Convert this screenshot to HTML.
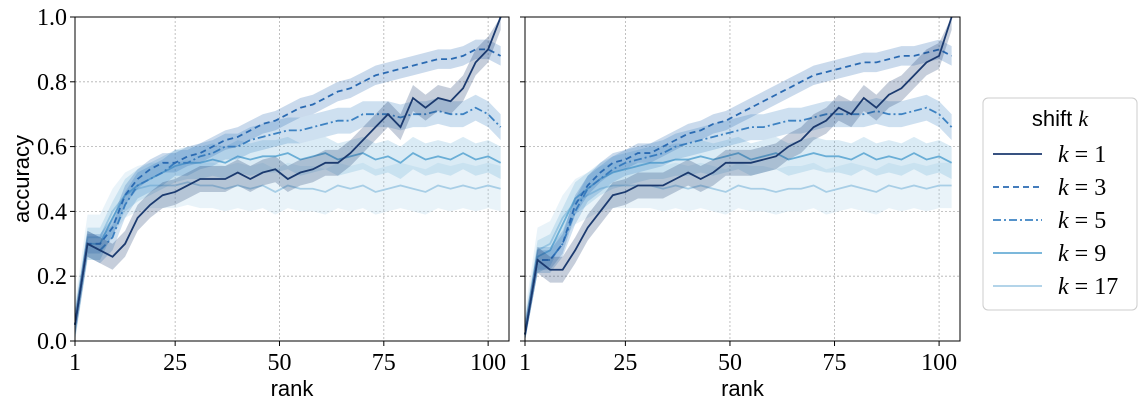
<!DOCTYPE html>
<html><head><meta charset="utf-8"><style>
body{margin:0;background:#fff;}
svg text{fill:#000;}
.ser{font-family:"Liberation Serif",serif;font-size:24px;}
.san{font-family:"Liberation Sans",sans-serif;font-size:22px;}
</style></head><body>
<svg id="c" width="1146" height="409" xmlns="http://www.w3.org/2000/svg"></svg>
<script>
const ranks=[1,4,7,10,13,16,19,22,25,28,31,34,37,40,43,46,49,52,55,58,61,64,67,70,73,76,79,82,85,88,91,94,97,100,103];
const xTicks=[1,25,50,75,100];
const yTicks=[0,0.2,0.4,0.6,0.8,1.0];
const yTickLabels=["0.0","0.2","0.4","0.6","0.8","1.0"];
const seriesNames=["k = 1","k = 3","k = 5","k = 9","k = 17"];
const bandWidth=[0.04,0.03,0.04,0.05,0.07];
const L_k1=[0.05,0.30,0.28,0.26,0.30,0.38,0.42,0.45,0.46,0.48,0.50,0.50,0.50,0.52,0.50,0.52,0.53,0.50,0.52,0.53,0.55,0.55,0.58,0.62,0.66,0.70,0.66,0.75,0.72,0.75,0.74,0.78,0.86,0.90,1.00];
const L_k3=[0.05,0.30,0.30,0.35,0.45,0.50,0.53,0.55,0.55,0.57,0.58,0.60,0.62,0.63,0.65,0.67,0.68,0.70,0.72,0.73,0.75,0.77,0.78,0.80,0.82,0.83,0.84,0.85,0.86,0.87,0.87,0.88,0.90,0.90,0.88];
const L_k5=[0.05,0.30,0.28,0.32,0.42,0.48,0.50,0.52,0.55,0.55,0.57,0.58,0.60,0.60,0.62,0.63,0.64,0.65,0.65,0.66,0.67,0.68,0.68,0.70,0.70,0.70,0.69,0.70,0.70,0.71,0.70,0.70,0.72,0.70,0.66];
const L_k9=[0.05,0.30,0.30,0.38,0.45,0.48,0.50,0.52,0.54,0.55,0.55,0.56,0.55,0.57,0.56,0.57,0.57,0.58,0.56,0.57,0.58,0.56,0.57,0.58,0.56,0.57,0.55,0.58,0.56,0.57,0.56,0.58,0.56,0.57,0.55];
const L_k17=[0.05,0.32,0.32,0.40,0.45,0.47,0.48,0.48,0.48,0.49,0.48,0.48,0.47,0.48,0.47,0.48,0.46,0.48,0.47,0.47,0.46,0.48,0.47,0.48,0.46,0.47,0.48,0.47,0.46,0.48,0.47,0.48,0.47,0.48,0.47];
const R_k1=[0.02,0.25,0.22,0.22,0.28,0.35,0.40,0.45,0.46,0.48,0.48,0.48,0.50,0.52,0.50,0.52,0.55,0.55,0.55,0.56,0.57,0.60,0.62,0.66,0.68,0.72,0.70,0.75,0.72,0.76,0.78,0.82,0.86,0.88,1.00];
const R_k3=[0.02,0.25,0.25,0.30,0.42,0.48,0.52,0.55,0.56,0.58,0.58,0.60,0.62,0.64,0.65,0.67,0.68,0.70,0.72,0.74,0.76,0.78,0.80,0.82,0.83,0.84,0.85,0.86,0.86,0.87,0.88,0.88,0.89,0.90,0.88];
const R_k5=[0.02,0.25,0.25,0.30,0.40,0.47,0.50,0.53,0.55,0.56,0.57,0.58,0.60,0.61,0.62,0.63,0.64,0.65,0.66,0.66,0.67,0.68,0.68,0.69,0.70,0.70,0.70,0.70,0.71,0.70,0.70,0.71,0.72,0.70,0.66];
const R_k9=[0.02,0.26,0.28,0.36,0.44,0.47,0.50,0.52,0.53,0.54,0.55,0.55,0.56,0.56,0.57,0.56,0.57,0.58,0.56,0.57,0.58,0.56,0.57,0.58,0.57,0.57,0.56,0.58,0.56,0.57,0.56,0.58,0.56,0.57,0.55];
const R_k17=[0.02,0.28,0.30,0.38,0.43,0.45,0.47,0.48,0.48,0.48,0.48,0.47,0.48,0.47,0.48,0.47,0.46,0.48,0.47,0.47,0.46,0.47,0.47,0.48,0.46,0.47,0.48,0.47,0.46,0.48,0.47,0.48,0.47,0.48,0.48];
const colors=["#1b3a6f","#2a6ab2","#3d82c2","#6aaed6","#a8cee6"];
const dashes=["","6,4","8,3,2,3","",""];
const NS="http://www.w3.org/2000/svg";
const svg=document.getElementById('c');
function el(t,a,p){const e=document.createElementNS(NS,t);for(const k in a)e.setAttribute(k,a[k]);(p||svg).appendChild(e);return e;}
const plotTop=17,plotBot=341;
function panel(x0,x1,data,showY,name){
  const g=el('g',{});
  
  
  const X=v=>x0+(v-1)/(105-1)*(x1-x0);
  const Y=v=>plotBot-v*(plotBot-plotTop);
  xTicks.forEach(t=>{const l=el('line',{x1:X(t),x2:X(t),y1:plotTop,y2:plotBot,stroke:'#b0b0b0','stroke-dasharray':'2,2','stroke-width':0.8},g);
    
    el('line',{x1:X(t),x2:X(t),y1:plotBot,y2:plotBot+5,stroke:'#000'},g);
    const tx=el('text',{x:X(t),y:plotBot+29,'text-anchor':'middle',class:'ser'},g);tx.textContent=t;
    });
  yTicks.forEach((t,i)=>{const l=el('line',{x1:x0,x2:x1,y1:Y(t),y2:Y(t),stroke:'#b0b0b0','stroke-dasharray':'2,2','stroke-width':0.8},g);
    
    el('line',{x1:x0-5,x2:x0,y1:Y(t),y2:Y(t),stroke:'#000'},g);
    if(showY){const tx=el('text',{x:x0-8,y:Y(t)+8,'text-anchor':'end',class:'ser'},g);tx.textContent=yTickLabels[i];
    }});
  for(let s=data.length-1;s>=0;s--){
    const d=data[s];const n=Math.min(d.length,ranks.length);
    let up='',dn='';
    for(let i=0;i<n;i++)up+=(i?'L':'M')+X(ranks[i])+','+Y(Math.min(1,d[i]+bandWidth[s]));
    for(let i=n-1;i>=0;i--)dn+='L'+X(ranks[i])+','+Y(Math.max(0,d[i]-bandWidth[s]));
    const b=el('path',{d:up+dn+'Z',fill:colors[s],'fill-opacity':0.25,stroke:'none'},g);
    
    let p='';for(let i=0;i<n;i++)p+=(i?'L':'M')+X(ranks[i])+','+Y(d[i]);
    const ln=el('path',{d:p,fill:'none',stroke:colors[s],'stroke-width':1.8,'stroke-dasharray':dashes[s]},g);
    
  }
  el('rect',{x:x0,y:plotTop,width:x1-x0,height:plotBot-plotTop,fill:'none',stroke:'#000','stroke-width':1},g);
  const xl=el('text',{x:(x0+x1)/2,y:396,'text-anchor':'middle',class:'san'},g);xl.textContent='rank';
  
}
panel(75,509,[L_k1,L_k3,L_k5,L_k9,L_k17],true,'left-panel');
panel(525,960,[R_k1,R_k3,R_k5,R_k9,R_k17],false,'right-panel');
const yl=el('text',{x:0,y:0,transform:'translate(29,179) rotate(-90)','text-anchor':'middle',class:'san'});yl.textContent='accuracy';

const lg=el('g',{});


el('rect',{x:983,y:98,width:154,height:212,rx:5,fill:'#fff',stroke:'#ccc'},lg);
const tt=el('text',{x:1060,y:126,'text-anchor':'middle',class:'san'},lg);tt.innerHTML='shift <tspan font-family="Liberation Serif" font-style="italic">k</tspan>';

seriesNames.forEach((nm,i)=>{const y=154+i*33;
  const ln=el('line',{x1:993,x2:1042,y1:y,y2:y,stroke:colors[i],'stroke-width':1.8,'stroke-dasharray':dashes[i]},lg);
  
  const t=el('text',{x:1058,y:y+8,class:'ser'},lg);t.innerHTML='<tspan font-style="italic">k</tspan> = '+nm.split(' = ')[1];
  });
</script>
</body></html>
